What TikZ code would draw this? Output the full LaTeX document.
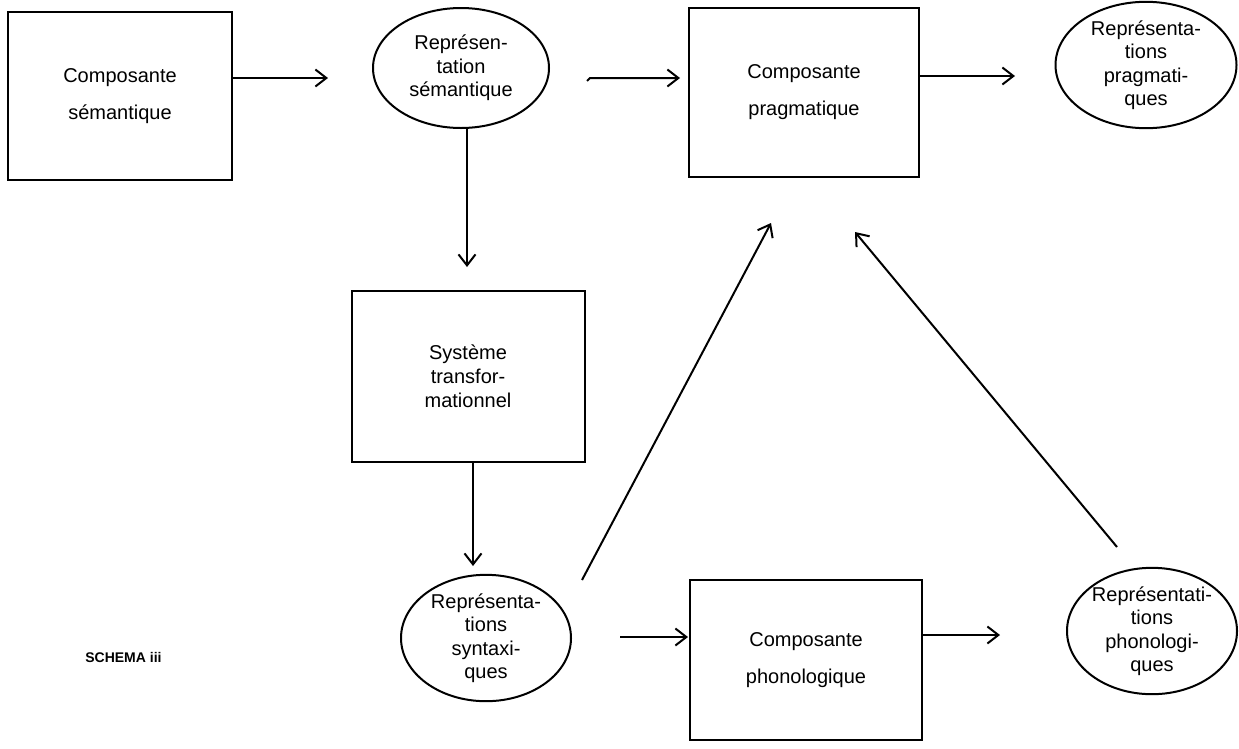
\documentclass[tikz,border=0pt]{standalone}
\usepackage{fontspec}
\setmainfont{Liberation Sans}
\usetikzlibrary{shapes.geometric,arrows.meta}
\begin{document}
\begin{tikzpicture}[x=1pt,y=-1pt,
  line width=2pt,
  boxnode/.style={draw,rectangle,inner sep=0pt,align=center,font=\fontsize{20}{37}\selectfont},
  ellnode/.style={draw,ellipse,inner sep=0pt,align=center,font=\fontsize{20}{23.5}\selectfont},
  arr/.style={-{Straight Barb[length=11pt,width=17pt,line width=2pt]}},
]
\useasboundingbox (0,0) rectangle (1239,748);
% nodes
\node[boxnode,minimum width=224pt,minimum height=168pt] (cs) at (120,96) {Composante\\sémantique};
\node[ellnode,minimum width=176pt,minimum height=120pt] (rs) at (461,68) {Représen-\\tation\\sémantique};
\node[boxnode,minimum width=230pt,minimum height=169pt] (cp) at (804,92.5) {Composante\\pragmatique};
\node[ellnode,minimum width=181pt,minimum height=116pt] (rp) at (1146,65) {Représenta-\\tions\\pragmati-\\ques};
\node[boxnode,minimum width=233pt,minimum height=171pt,font=\fontsize{20}{24}\selectfont] (st) at (468,376) {Système\\transfor-\\mationnel};
\node[ellnode,minimum width=170pt,minimum height=123pt] (rsy) at (486,638) {Représenta-\\tions\\syntaxi-\\ques};
\node[boxnode,minimum width=232pt,minimum height=160pt] (cph) at (806,660) {Composante\\phonologique};
\node[ellnode,minimum width=170pt,minimum height=122pt] (rph) at (1152,631) {Représentati-\\tions\\phonologi-\\ques};
\node[font=\fontsize{14}{17}\selectfont\bfseries,anchor=west] (lbl) at (81,657) {SCHEMA iii};
% free ends
\coordinate (a1e) at (328,78);
\coordinate (a2h) at (587,81);
\coordinate (a2s) at (590,78);
\coordinate (a2e) at (680,78);
\coordinate (a3e) at (1015,76);
\coordinate (v1s) at (467,128);
\coordinate (v1e) at (467,267);
\coordinate (v2e) at (473,566);
\coordinate (d1s) at (582,580);
\coordinate (d1e) at (771,223);
\coordinate (d2s) at (1117,547);
\coordinate (d2e) at (855,232);
\coordinate (a5s) at (620,637);
\coordinate (a5e) at (688,637);
\coordinate (a6e) at (1000,635);
% connectors
\draw[arr] (cs.east |- a1e) -- (a1e);
\draw[arr] (a2h) -- (a2s) -- (a2e);
\draw[arr] (cp.east |- a3e) -- (a3e);
\draw[arr] (v1s) -- (v1e);
\draw[arr] (st.south -| v2e) -- (v2e);
\draw[arr] (d1s) -- (d1e);
\draw[arr] (d2s) -- (d2e);
\draw[arr] (a5s) -- (a5e);
\draw[arr] (cph.east |- a6e) -- (a6e);
\end{tikzpicture}
\end{document}
